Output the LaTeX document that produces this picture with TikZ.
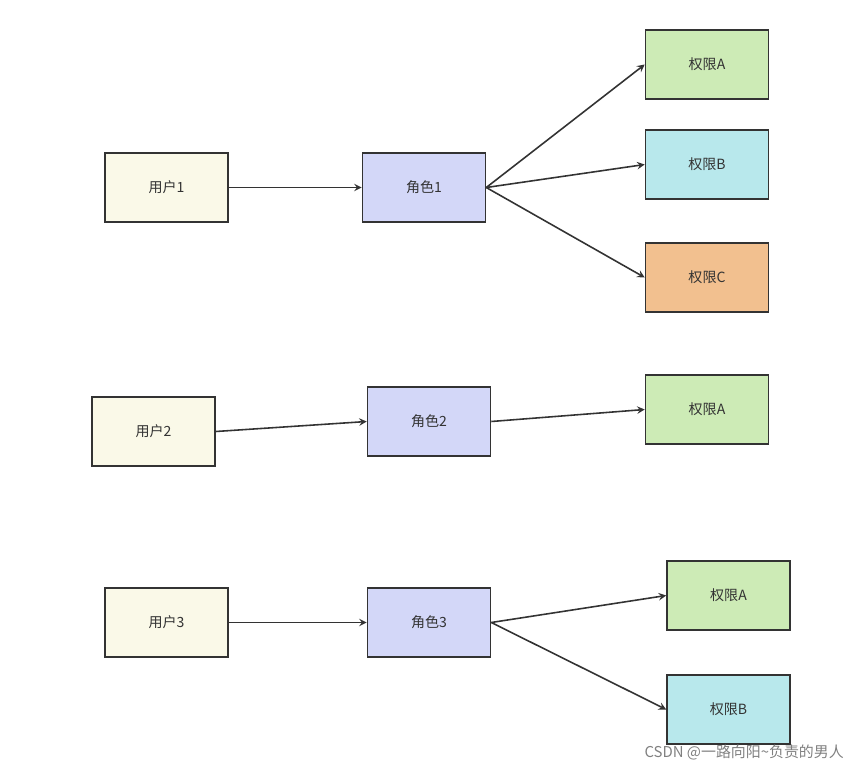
\documentclass[tikz,border=0pt]{standalone}
\usepackage{fontspec}
\setmainfont{Noto Sans CJK SC}
\usepackage{xcolor}
\usetikzlibrary{arrows,positioning}
\definecolor{userfill}{HTML}{FAF9E8}
\definecolor{rolefill}{HTML}{D3D7F8}
\definecolor{permA}{HTML}{CDEBB6}
\definecolor{permB}{HTML}{B8E8EC}
\definecolor{permC}{HTML}{F2C08F}
\definecolor{edgegray}{HTML}{333333}

\begin{document}
\begin{tikzpicture}[x=0.02cm, y=-0.02cm, >=stealth]
    \tikzstyle{box} = [rectangle, minimum width=2.46cm, minimum height=1.38cm, text centered, draw=edgegray, line width=0.9pt, font=\fontsize{8}{10}\selectfont, text=edgegray]
    \tikzstyle{user} = [box, fill=userfill]
    \tikzstyle{role} = [box, fill=rolefill]
    \tikzstyle{arrow} = [line width=0.9pt, ->, draw=edgegray]

    \useasboundingbox (0,0) rectangle (863,774);

    \node (u1) [user] at (166.5,187.5) {用户1};
    \node (r1) [role] at (424,187.5) {角色1};
    \node (p1a) [box, fill=permA] at (707,64.5) {权限A};
    \node (p1b) [box, fill=permB] at (707,164.5) {权限B};
    \node (p1c) [box, fill=permC] at (707,277.5) {权限C};

    \node (u2) [user] at (153.5,431.5) {用户2};
    \node (r2) [role] at (429,421.5) {角色2};
    \node (p2a) [box, fill=permA] at (707,409.5) {权限A};

    \node (u3) [user] at (166.5,622.5) {用户3};
    \node (r3) [role] at (429,622.5) {角色3};
    \node (p3a) [box, fill=permA] at (728.5,595.5) {权限A};
    \node (p3b) [box, fill=permB] at (728.5,709.5) {权限B};

    \draw [arrow] (u1.east) -- (r1.west);
    \draw [arrow] (r1.east) -- (p1a.west);
    \draw [arrow] (r1.east) -- (p1b.west);
    \draw [arrow] (r1.east) -- (p1c.west);
    \draw [arrow] (u2.east) -- (r2.west);
    \draw [arrow] (r2.east) -- (p2a.west);
    \draw [arrow] (u3.east) -- (r3.west);
    \draw [arrow] (r3.east) -- (p3a.west);
    \draw [arrow] (r3.east) -- (p3b.west);

    \node (mark) [anchor=east, text=gray, font=\fontsize{8.5}{10}\selectfont] at (850,752) {CSDN @一路向阳\textasciitilde 负责的男人};
\end{tikzpicture}
\end{document}
